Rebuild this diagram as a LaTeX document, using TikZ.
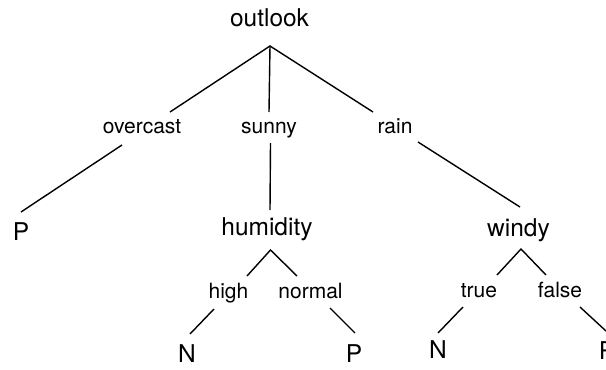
\documentclass[tikz,border=0pt]{standalone}
\usepackage{fontspec}
\setmainfont{TeX Gyre Heros}

\begin{document}
\begin{tikzpicture}[
    x=1pt, y=-1pt,
    attr/.style={anchor=base, inner sep=0pt, font=\fontsize{24.5}{29}\selectfont},
    val/.style={anchor=base, inner sep=0pt, font=\fontsize{21}{25}\selectfont},
    branch/.style={line width=1.4pt}
  ]
  \useasboundingbox (0,0) rectangle (606,370);

  % decision nodes and leaves
  \node[attr] (outlook) at (269.5,26) {outlook};
  \node[attr] (p1) at (21,240) {P};
  \node[attr] (humidity) at (267,235) {humidity};
  \node[attr] (windy) at (518.5,236.5) {windy};
  \node[attr] (n1) at (187,362.5) {N};
  \node[attr] (p2) at (354,362.5) {P};
  \node[attr] (n2) at (438,358.5) {N};
  \node[attr] (p3) at (607,359) {P};

  % branch values
  \node[val] (overcast) at (142,133) {overcast};
  \node[val] (sunny) at (269,133) {sunny};
  \node[val] (rain) at (395,133) {rain};
  \node[val] (high) at (228.5,298) {high};
  \node[val] (normal) at (310.5,298) {normal};
  \node[val] (true) at (479,297) {true};
  \node[val] (false) at (560,297) {false};

  % line ends
  \coordinate (outlook-fork) at (270,46);
  \coordinate (overcast-in) at (170,112);
  \coordinate (sunny-in) at (269,112);
  \coordinate (rain-in) at (373,112);
  \coordinate (overcast-out) at (122,145);
  \coordinate (sunny-out) at (270.5,143);
  \coordinate (rain-out) at (418,142);
  \coordinate (p1-in) at (21,212);
  \coordinate (humidity-in) at (270,210);
  \coordinate (windy-in) at (520,207);
  \coordinate (humidity-fork) at (270.5,250);
  \coordinate (high-in) at (247,276);
  \coordinate (normal-in) at (297,276);
  \coordinate (high-out) at (214,309);
  \coordinate (normal-out) at (330,308);
  \coordinate (n1-in) at (190,334);
  \coordinate (p2-in) at (355,333);
  \coordinate (windy-fork) at (521,249);
  \coordinate (true-in) at (497,275);
  \coordinate (false-in) at (546,275);
  \coordinate (true-out) at (463,307);
  \coordinate (false-out) at (580,307);
  \coordinate (n2-in) at (438,333);
  \coordinate (p3-in) at (606,331);

  \draw[branch] (overcast-in) -- (outlook-fork) -- (rain-in);
  \draw[branch] (outlook-fork) -- (sunny-in);
  \draw[branch] (overcast-out) -- (p1-in);
  \draw[branch] (sunny-out) -- (humidity-in);
  \draw[branch] (rain-out) -- (windy-in);
  \draw[branch] (high-in) -- (humidity-fork) -- (normal-in);
  \draw[branch] (high-out) -- (n1-in);
  \draw[branch] (normal-out) -- (p2-in);
  \draw[branch] (true-in) -- (windy-fork) -- (false-in);
  \draw[branch] (true-out) -- (n2-in);
  \draw[branch] (false-out) -- (p3-in);
\end{tikzpicture}
\end{document}
